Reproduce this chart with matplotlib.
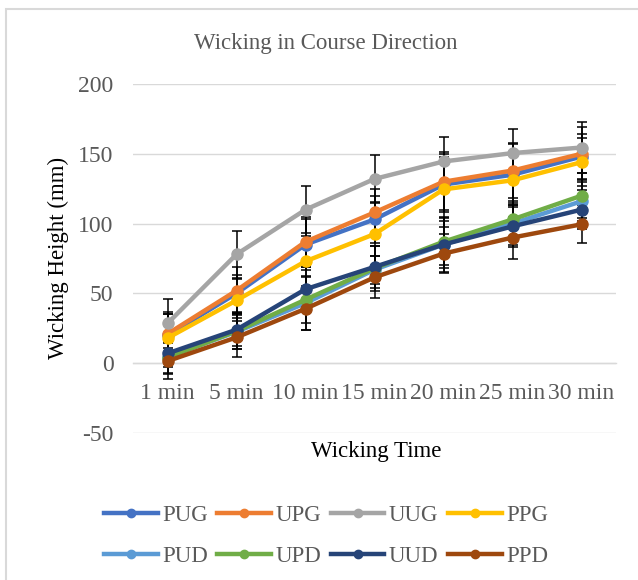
import matplotlib.pyplot as plt
import matplotlib.patches as mpatches
import numpy as np

plt.rcParams['font.family'] = ['Liberation Serif', 'DejaVu Serif']
plt.rcParams['axes.unicode_minus'] = False

times = ['1 min', '5 min', '10 min', '15 min', '20 min', '25 min', '30 min']

pug = [20, 50, 85, 103, 128, 135, 148]
upg = [21, 52, 87, 108, 130, 138, 150]
uug = [28.5, 78, 110, 132, 144.5, 150.5, 154.5]
ppg = [18, 45, 73, 92.5, 124.5, 131, 144]
pud = [4.5, 22.5, 43, 67, 85, 100, 116]
upd = [4, 23, 45.5, 68, 87, 103, 120]
uud = [7, 24, 53, 69, 85, 98, 110]
ppd = [1.5, 18.5, 39, 61.5, 78.5, 90, 99.5]

pug_err = [15, 13, 18, 17, 20, 22, 16]
upg_err = [16, 17, 18, 17, 20, 20, 19]
uug_err = [17.5, 17, 17, 17, 17.5, 17.5, 18]
ppg_err = [17, 15, 18, 23, 27, 19, 17]
pud_err = [12, 12, 19, 10, 17, 15, 14]
upd_err = [11, 13, 17, 16, 17, 13, 16]
uud_err = [10, 12, 16, 15, 20, 15, 14]
ppd_err = [13, 14, 15, 15, 14, 15, 13.5]

series = [
    ('PUG', pug, pug_err, '#4472C4'),
    ('UPG', upg, upg_err, '#ED7D31'),
    ('UUG', uug, uug_err, '#A5A5A5'),
    ('PPG', ppg, ppg_err, '#FFC000'),
    ('PUD', pud, pud_err, '#5B9BD5'),
    ('UPD', upd, upd_err, '#70AD47'),
    ('UUD', uud, uud_err, '#264478'),
    ('PPD', ppd, ppd_err, '#9E480E'),
]

fig = plt.figure(figsize=(6.38, 5.8), dpi=100)
ax = fig.add_axes([133 / 638, 1 - 433 / 580, (616 - 133) / 638, (433 - 84) / 580])

x = np.arange(len(times))
handles = {}
for name, vals, errs, col in series:
    ax.errorbar(x, vals, yerr=errs, fmt='none', ecolor='black', elinewidth=1.1,
                capsize=3.5, capthick=1.1, zorder=2)
for name, vals, errs, col in series:
    line, = ax.plot(x, vals, color=col, linewidth=3.2, marker='o', markersize=8,
                    label=name, zorder=3)
    handles[name] = line

ax.set_xlim(-0.5, len(times) - 0.5)
ax.set_ylim(-50, 200)
ax.set_yticks([-50, 0, 50, 100, 150, 200])
ax.yaxis.grid(True, color='#D9D9D9', linewidth=1)
ax.set_axisbelow(True)
for s in ['left', 'right', 'top']:
    ax.spines[s].set_visible(False)
ax.spines['bottom'].set_position(('data', 0))
ax.spines['bottom'].set_color('#D9D9D9')
ax.spines['bottom'].set_linewidth(1)
ax.set_xticks(x)
ax.set_xticklabels(times)
ax.tick_params(axis='x', length=0, pad=14, labelsize=17, labelcolor='#595959')
ax.tick_params(axis='y', length=0, pad=14, labelsize=17, labelcolor='#595959')

fig.text(326 / 638, 1 - 43 / 580, 'Wicking in Course Direction', ha='center', va='center',
         fontsize=16.5, color='#595959')
fig.text(58 / 638, 1 - 258 / 580, 'Wicking Height (mm)', ha='center', va='center',
         rotation=90, fontsize=16.5, color='black')
fig.text(376 / 638, 1 - 452 / 580, 'Wicking Time', ha='center', va='center',
         fontsize=16.5, color='black')

order = ['PUG', 'PUD', 'UPG', 'UPD', 'UUG', 'UUD', 'PPG', 'PPD']
leg = fig.legend([handles[n] for n in order], order, loc='center', ncol=4,
                 bbox_to_anchor=(326 / 638, 1 - 536 / 580), frameon=False,
                 fontsize=16.5, handlelength=2.35, handletextpad=0.2, columnspacing=0.4,
                 labelspacing=0.85, markerscale=0.75)
for t in leg.get_texts():
    t.set_color('#595959')

fig.patches.append(mpatches.Rectangle((6 / 638, -0.2), 1.5, 1 - 9 / 580 + 0.2,
                                      transform=fig.transFigure, fill=False,
                                      edgecolor='#D9D9D9', linewidth=1.5))

fig.savefig('out.png', dpi=100)
